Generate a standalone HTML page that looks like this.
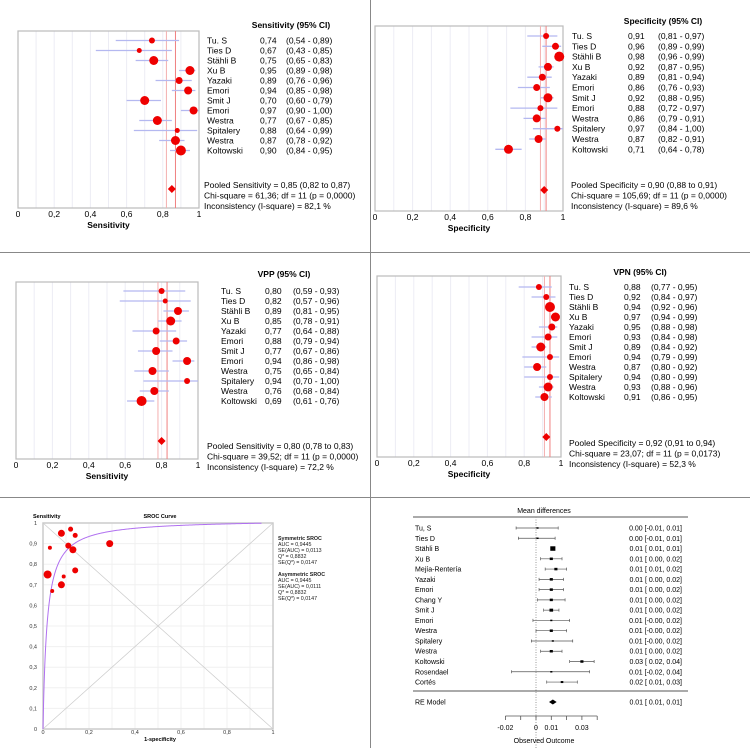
<!DOCTYPE html>
<html><head><meta charset="utf-8"><style>
html,body{margin:0;padding:0;background:#fff;}
svg{display:block;font-family:"Liberation Sans",sans-serif;}
</style></head><body>
<svg id="fig" width="750" height="748" viewBox="0 0 750 748" xmlns="http://www.w3.org/2000/svg">
<rect x="0" y="0" width="750" height="748" fill="#fff"/>
<g stroke="#888" stroke-width="1">
<line x1="370.5" y1="0" x2="370.5" y2="748"/>
<line x1="0" y1="252.5" x2="750" y2="252.5"/>
<line x1="0" y1="497.5" x2="750" y2="497.5"/>
</g>
</svg>
<script>
const NS="http://www.w3.org/2000/svg";
const svg=document.getElementById('fig');
function mk(tag,attrs,parent,txt){const e=document.createElementNS(NS,tag);for(const k in attrs)e.setAttribute(k,attrs[k]);if(txt!==undefined)e.textContent=txt;(parent||svg).appendChild(e);return e;}

// ---------- data ----------
const studyNames=["Tu. S","Ties D","Stähli B","Xu B","Yazaki","Emori","Smit J","Emori","Westra","Spitalery","Westra","Koltowski"];
const sensEst=[0.74,0.67,0.75,0.95,0.89,0.94,0.70,0.97,0.77,0.88,0.87,0.90];
const sensLo=[0.54,0.43,0.65,0.89,0.76,0.85,0.60,0.90,0.67,0.64,0.78,0.84];
const sensHi=[0.89,0.85,0.83,0.98,0.96,0.98,0.79,1.00,0.85,0.99,0.92,0.95];
const sensW=[3,2.5,4.5,4.5,3.5,4,4.5,4,4.5,2.5,4.5,5];
const sensPooled=[0.85,0.82,0.87];
const specEst=[0.91,0.96,0.98,0.92,0.89,0.86,0.92,0.88,0.86,0.97,0.87,0.71];
const specLo=[0.81,0.89,0.96,0.87,0.81,0.76,0.88,0.72,0.79,0.84,0.82,0.64];
const specHi=[0.97,0.99,0.99,0.95,0.94,0.93,0.95,0.97,0.91,1.00,0.91,0.78];
const specW=[3,3.5,5,4,3.5,3.5,4.5,3,4,3,4,4.5];
const specPooled=[0.90,0.88,0.91];
const vppEst=[0.80,0.82,0.89,0.85,0.77,0.88,0.77,0.94,0.75,0.94,0.76,0.69];
const vppLo=[0.59,0.57,0.81,0.78,0.64,0.79,0.67,0.86,0.65,0.70,0.68,0.61];
const vppHi=[0.93,0.96,0.95,0.91,0.88,0.94,0.86,0.98,0.84,1.00,0.84,0.76];
const vppW=[3,2.5,4,4.5,3.5,3.5,4,4,4,3,4,5];
const vppPooled=[0.80,0.78,0.83];
const vpnEst=[0.88,0.92,0.94,0.97,0.95,0.93,0.89,0.94,0.87,0.94,0.93,0.91];
const vpnLo=[0.77,0.84,0.92,0.94,0.88,0.84,0.84,0.79,0.80,0.80,0.88,0.86];
const vpnHi=[0.95,0.97,0.96,0.99,0.98,0.98,0.92,0.99,0.92,0.99,0.96,0.95];
const vpnW=[3,3,5,4.5,3.5,3.5,4.5,3,4,3,4.5,4];
const vpnPooled=[0.92,0.91,0.94];
const forestTicks=[0,0.2,0.4,0.6,0.8,1];
const forestTickLabels=["0","0,2","0,4","0,6","0,8","1"];

function f2(v){return v.toFixed(2).replace('.',',');}

function forest(cfg){
  const g=mk('g',{});
  
  
  const x=v=>cfg.x0+v*(cfg.x1-cfg.x0);
  const y=i=>cfg.ry0+i*cfg.rstep;
  // grid
  for(let t=0.1;t<1.0;t+=0.1){mk('line',{x1:x(t),x2:x(t),y1:cfg.y0,y2:cfg.y1,stroke:'#ececf4','stroke-width':1},g);}
  const box=mk('rect',{x:cfg.x0,y:cfg.y0,width:cfg.x1-cfg.x0,height:cfg.y1-cfg.y0,fill:'none',stroke:'#bbb','stroke-width':1.2},g);
  
  
  // pooled CI lines
  mk('line',{x1:x(cfg.pooled[1]),x2:x(cfg.pooled[1]),y1:cfg.y0,y2:cfg.y1,stroke:'#f4b0b0','stroke-width':1},g);
  mk('line',{x1:x(cfg.pooled[2]),x2:x(cfg.pooled[2]),y1:cfg.y0,y2:cfg.y1,stroke:'#f08080','stroke-width':1},g);
  // header
  mk('text',{x:cfg.hx,y:cfg.hy,'font-size':8.5,'font-weight':'bold','text-anchor':'middle'},g,cfg.header);
  for(let i=0;i<cfg.est.length;i++){
    const ci=mk('line',{x1:x(cfg.lo[i]),x2:x(cfg.hi[i]),y1:y(i),y2:y(i),stroke:'#b4b8f0','stroke-width':1.3},g);
    
    
    const c=mk('circle',{cx:x(cfg.est[i]),cy:y(i),r:cfg.w[i],fill:'#ee0000'},g);
    
    
    mk('text',{x:cfg.nx,y:y(i)+3,'font-size':8.5},g,studyNames[i]);
    mk('text',{x:cfg.vx,y:y(i)+3,'font-size':8.5},g,f2(cfg.est[i]));
    mk('text',{x:cfg.cx,y:y(i)+3,'font-size':8.5},g,'('+f2(cfg.lo[i])+' - '+f2(cfg.hi[i])+')');
  }
  const px=x(cfg.pooled[0]),py=cfg.dy;
  const d=mk('polygon',{points:`${px-4},${py} ${px},${py-4} ${px+4},${py} ${px},${py+4}`,fill:'#ee0000'},g);
  
  
  forestTicks.forEach((t,i)=>{mk('text',{x:x(t),y:cfg.y1+9,'font-size':8.5,'text-anchor':'middle'},g,forestTickLabels[i]);});
  mk('text',{x:(cfg.x0+cfg.x1)/2,y:cfg.y1+20,'font-size':8.5,'font-weight':'bold','text-anchor':'middle'},g,cfg.axis);
  cfg.stats.forEach((s,i)=>{mk('text',{x:cfg.sx,y:cfg.sy+i*10.5,'font-size':8.5},g,s);});
}

forest({name:'sensitivity-forest',x0:18,x1:199,y0:31,y1:208,ry0:40.5,rstep:10,est:sensEst,lo:sensLo,hi:sensHi,w:sensW,pooled:sensPooled,
 header:'Sensitivity (95% CI)',hx:291,hy:28,nx:207,vx:260,cx:286,dy:189,axis:'Sensitivity',sx:204,sy:188,
 stats:['Pooled Sensitivity = 0,85 (0,82 to 0,87)','Chi-square = 61,36; df =  11 (p = 0,0000)','Inconsistency (I-square) = 82,1 %']});
forest({name:'specificity-forest',x0:375,x1:563,y0:26,y1:211,ry0:36,rstep:10.3,est:specEst,lo:specLo,hi:specHi,w:specW,pooled:specPooled,
 header:'Specificity (95% CI)',hx:663,hy:24,nx:572,vx:628,cx:658,dy:190,axis:'Specificity',sx:571,sy:188,
 stats:['Pooled Specificity = 0,90 (0,88 to 0,91)','Chi-square = 105,69; df =  11 (p = 0,0000)','Inconsistency (I-square) = 89,6 %']});
forest({name:'vpp-forest',x0:16,x1:198,y0:282,y1:459,ry0:291,rstep:10,est:vppEst,lo:vppLo,hi:vppHi,w:vppW,pooled:vppPooled,
 header:'VPP (95% CI)',hx:284,hy:277,nx:221,vx:265,cx:293,dy:441,axis:'Sensitivity',sx:207,sy:449,
 stats:['Pooled Sensitivity = 0,80 (0,78 to 0,83)','Chi-square = 39,52; df =  11 (p = 0,0000)','Inconsistency (I-square) = 72,2 %']});
forest({name:'vpn-forest',x0:377,x1:561,y0:276,y1:457,ry0:287,rstep:10,est:vpnEst,lo:vpnLo,hi:vpnHi,w:vpnW,pooled:vpnPooled,
 header:'VPN (95% CI)',hx:640,hy:275,nx:569,vx:624,cx:651,dy:437,axis:'Specificity',sx:569,sy:446,
 stats:['Pooled Specificity = 0,92 (0,91 to 0,94)','Chi-square = 23,07; df =  11 (p = 0,0173)','Inconsistency (I-square) = 52,3 %']});

// ---------- SROC ----------
const srocFpr=[0.09,0.04,0.02,0.08,0.11,0.14,0.08,0.12,0.14,0.03,0.13,0.29];
const srocSens=[0.74,0.67,0.75,0.95,0.89,0.94,0.70,0.97,0.77,0.88,0.87,0.90];
const srocSize=[2,2,4,3.5,3,2.5,3.5,2.5,3,2,3.5,3.5];
const srocQ=0.8832;
const srocTicks=[0,0.1,0.2,0.3,0.4,0.5,0.6,0.7,0.8,0.9,1];
const srocYLabels=["0","0,1","0,2","0,3","0,4","0,5","0,6","0,7","0,8","0,9","1"];
const srocXTicks=[0,0.2,0.4,0.6,0.8,1];
const srocXLabels=["0","0,2","0,4","0,6","0,8","1"];
const srocText=[["Symmetric SROC",1],["AUC = 0,9445",0],["SE(AUC) = 0,0113",0],["Q* = 0,8832",0],["SE(Q*) = 0,0147",0],["",0],
 ["Asymmetric SROC",1],["AUC = 0,9445",0],["SE(AUC) = 0,0111",0],["Q* = 0,8832",0],["SE(Q*) = 0,0147",0]];
(function(){
  const g=mk('g',{});
  
  
  const X0=43,X1=273,Y0=523,Y1=729;
  const x=v=>X0+v*(X1-X0), y=v=>Y1-v*(Y1-Y0);
  srocTicks.forEach((t,i)=>{
    mk('line',{x1:x(t),x2:x(t),y1:Y0,y2:Y1,stroke:'#f0f0f0'},g);
    mk('line',{x1:X0,x2:X1,y1:y(t),y2:y(t),stroke:'#f0f0f0'},g);
    mk('text',{x:37,y:y(t)+2,'font-size':5.5,'text-anchor':'end',fill:'#333'},g,srocYLabels[i]);
  });
  srocXTicks.forEach((t,i)=>{mk('text',{x:x(t),y:734,'font-size':5.5,'text-anchor':'middle',fill:'#333'},g,srocXLabels[i]);});
  mk('line',{x1:x(0),y1:y(0),x2:x(1),y2:y(1),stroke:'#ccc','stroke-width':0.7},g);
  mk('line',{x1:x(0),y1:y(1),x2:x(1),y2:y(0),stroke:'#ccc','stroke-width':0.7},g);
  const fr=mk('rect',{x:X0,y:Y0,width:X1-X0,height:Y1-Y0,fill:'none',stroke:'#ccc','stroke-width':1.5},g);
  
  
  const D=2*Math.log(srocQ/(1-srocQ));
  let pts=[];
  for(let k=1;k<=400;k++){const f=Math.pow(k/400,3)*0.95;const lf=Math.log(f/(1-f));const s=1/(1+Math.exp(-(D+lf)));pts.push(x(f).toFixed(2)+','+y(s).toFixed(2));}
  const c=mk('polyline',{points:x(0)+','+y(0)+' '+pts.join(' '),fill:'none',stroke:'#b070f0','stroke-width':1},g);
  
  
  for(let i=0;i<srocFpr.length;i++){
    const p=mk('circle',{cx:x(srocFpr[i]),cy:y(srocSens[i]),r:srocSize[i],fill:'#ee0000'},g);
    
    
  }
  mk('text',{x:33,y:518,'font-size':5.5,'font-weight':'bold'},g,'Sensitivity');
  mk('text',{x:160,y:518,'font-size':5.5,'font-weight':'bold','text-anchor':'middle'},g,'SROC Curve');
  mk('text',{x:160,y:741,'font-size':5.5,'font-weight':'bold','text-anchor':'middle'},g,'1-specificity');
  srocText.forEach((s,i)=>{if(s[0])mk('text',{x:278,y:540+i*6,'font-size':5.3,'font-weight':s[1]?'bold':'normal',fill:'#222'},g,s[0]);});
})();

// ---------- Mean differences ----------
const mdNames=["Tu, S","Ties D","Stähli B","Xu B","Mejía-Rentería","Yazaki","Emori","Chang Y","Smit J","Emori","Westra","Spitalery","Westra","Koltowski","Rosendael","Cortés"];
const mdEst=[0.001,0.001,0.011,0.010,0.013,0.010,0.010,0.010,0.010,0.010,0.010,0.011,0.010,0.030,0.010,0.017];
const mdLo=[-0.013,-0.0115,0.010,0.003,0.006,0.002,0.002,0.001,0.005,-0.002,0.000,-0.003,0.003,0.022,-0.016,0.007];
const mdHi=[0.0145,0.0125,0.012,0.017,0.020,0.018,0.018,0.019,0.015,0.022,0.020,0.024,0.017,0.038,0.035,0.027];
const mdSize=[1.5,1.5,4.5,2.5,2.5,2.5,2.5,2.5,3,1.5,2.5,1.5,2.5,2.5,1.5,2];
const mdLabels=["0.00 [-0.01, 0.01]","0.00 [-0.01, 0.01]","0.01 [ 0.01, 0.01]","0.01 [ 0.00, 0.02]","0.01 [ 0.01, 0.02]","0.01 [ 0.00, 0.02]","0.01 [ 0.00, 0.02]","0.01 [ 0.00, 0.02]","0.01 [ 0.00, 0.02]","0.01 [-0.00, 0.02]","0.01 [-0.00, 0.02]","0.01 [-0.00, 0.02]","0.01 [ 0.00, 0.02]","0.03 [ 0.02, 0.04]","0.01 [-0.02, 0.04]","0.02 [ 0.01, 0.03]"];
const mdRE=[0.011,0.0085,0.0135];
const mdTicks=[-0.02,-0.01,0,0.01,0.02,0.03,0.04];
const mdTickLabelVals=[-0.02,0,0.01,0.03];
const mdTickLabels=["-0.02","0","0.01","0.03"];
(function(){
  const g=mk('g',{});
  
  
  const x=v=>536+v*1530;
  const y=i=>528+i*10.27;
  mk('text',{x:544,y:513,'font-size':7,'text-anchor':'middle'},g,'Mean differences');
  mk('line',{x1:413,x2:688,y1:517,y2:517,stroke:'#555'},g);
  mk('line',{x1:413,x2:688,y1:691,y2:691,stroke:'#555'},g);
  mk('line',{x1:x(0),x2:x(0),y1:517,y2:748,stroke:'#999','stroke-dasharray':'1,1.5'},g);
  for(let i=0;i<mdEst.length;i++){
    const yy=y(i);
    const l=mk('line',{x1:x(mdLo[i]),x2:x(mdHi[i]),y1:yy,y2:yy,stroke:'#555','stroke-width':0.7},g);
    
    
    mk('line',{x1:x(mdLo[i]),x2:x(mdLo[i]),y1:yy-1.5,y2:yy+1.5,stroke:'#555','stroke-width':0.7},g);
    mk('line',{x1:x(mdHi[i]),x2:x(mdHi[i]),y1:yy-1.5,y2:yy+1.5,stroke:'#555','stroke-width':0.7},g);
    const s=mdSize[i];
    const r=mk('rect',{x:x(mdEst[i])-s/2-0.3,y:yy-s/2,width:s+0.6,height:s,fill:'#000'},g);
    
    
    mk('text',{x:415,y:yy+2.5,'font-size':7},g,mdNames[i]);
    mk('text',{x:682,y:yy+2.5,'font-size':7,'text-anchor':'end'},g,mdLabels[i]);
  }
  const ry=702;
  const d=mk('polygon',{points:`${x(mdRE[1])},${ry} ${x(mdRE[0])},${ry-2.5} ${x(mdRE[2])},${ry} ${x(mdRE[0])},${ry+2.5}`,fill:'#000'},g);
  
  
  mk('text',{x:415,y:ry+2.5,'font-size':7},g,'RE Model');
  mk('text',{x:682,y:ry+2.5,'font-size':7,'text-anchor':'end'},g,'0.01 [ 0.01, 0.01]');
  mk('line',{x1:x(mdTicks[0]),x2:x(mdTicks[mdTicks.length-1]),y1:716,y2:716,stroke:'#555','stroke-width':0.8},g);
  mdTicks.forEach(t=>mk('line',{x1:x(t),x2:x(t),y1:716,y2:720,stroke:'#555','stroke-width':0.8},g));
  mdTickLabelVals.forEach((t,i)=>mk('text',{x:x(t),y:730,'font-size':7,'text-anchor':'middle'},g,mdTickLabels[i]));
  mk('text',{x:544,y:743,'font-size':7,'text-anchor':'middle'},g,'Observed Outcome');
})();
</script>
</body></html>
